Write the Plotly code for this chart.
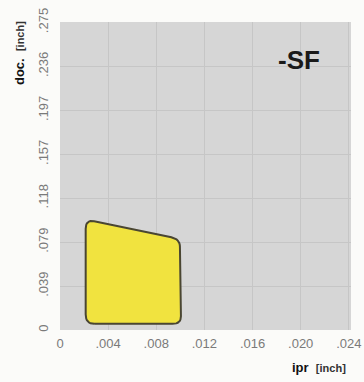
import plotly.graph_objects as go

# axis ticks (inch), derived from mm grid
x_tick_vals = [0.0, 0.003937, 0.007874, 0.011811, 0.015748, 0.019685, 0.023622]
x_tick_text = ["0", ".004", ".008", ".012", ".016", ".020", ".024"]
y_tick_vals = [0.0, 0.03937, 0.07874, 0.11811, 0.15748, 0.19685, 0.23622, 0.27559]
y_tick_text = ["0", ".039", ".079", ".118", ".157", ".197", ".236", ".275"]

# chip-breaking area polygon (vertices, inch)
area_ipr = [0.0021, 0.0021, 0.0098, 0.0099]
area_doc = [0.0055, 0.0990, 0.0815, 0.0055]
grade_label = "-SF"


def rounded(xs, ys, frac=0.09, n=8):
    px, py = [], []
    m = len(xs)
    for i in range(m):
        x0, y0 = xs[i - 1], ys[i - 1]
        x1, y1 = xs[i], ys[i]
        x2, y2 = xs[(i + 1) % m], ys[(i + 1) % m]
        ax, ay = x1 + (x0 - x1) * frac, y1 + (y0 - y1) * frac
        bx, by = x1 + (x2 - x1) * frac, y1 + (y2 - y1) * frac
        for k in range(n + 1):
            t = k / n
            px.append((1 - t) ** 2 * ax + 2 * (1 - t) * t * x1 + t ** 2 * bx)
            py.append((1 - t) ** 2 * ay + 2 * (1 - t) * t * y1 + t ** 2 * by)
    px.append(px[0])
    py.append(py[0])
    return px, py


sx, sy = rounded(area_ipr, area_doc)

fig = go.Figure()
fig.add_trace(go.Scatter(
    x=sx, y=sy, mode="lines", fill="toself",
    fillcolor="#f1e33f", line=dict(color="#4a4632", width=2),
    hoverinfo="skip", showlegend=False,
))

fig.update_layout(
    width=364, height=382,
    margin=dict(l=60, r=13, t=22, b=52),
    paper_bgcolor="#fbfbf9", plot_bgcolor="#d6d6d6",
    font=dict(family="Liberation Sans, Arial, sans-serif", color="#7a7a7a", size=13),
    xaxis=dict(range=[0, 0.0238], tickvals=x_tick_vals, ticktext=x_tick_text,
               showgrid=True, gridcolor="#c6c6c6", gridwidth=1, zeroline=False,
               showline=False, ticks="", fixedrange=True, automargin=False,
               ticklabelstandoff=4),
    yaxis=dict(range=[0, 0.276], tickvals=y_tick_vals, ticktext=y_tick_text,
               tickangle=-90, showgrid=True, gridcolor="#c6c6c6", gridwidth=1,
               zeroline=False, showline=False, ticks="", fixedrange=True,
               automargin=False, ticklabelstandoff=8),
    annotations=[
        dict(text="<b>doc.</b>  <b><span style='font-size:11px;color:#333'>[inch]</span></b>",
             xref="paper", yref="paper", x=-0.137, y=1.01, xanchor="center", yanchor="top",
             textangle=-90, showarrow=False, font=dict(size=13, color="#111")),
        dict(text="<b>ipr</b>  <b><span style='font-size:11px;color:#333'>[inch]</span></b>",
             xref="paper", yref="paper", x=0.99, y=-0.123, xanchor="right", yanchor="middle",
             showarrow=False, font=dict(size=13, color="#111")),
        dict(text="<b>" + grade_label + "</b>", xref="paper", yref="paper",
             x=0.82, y=0.878, xanchor="center", yanchor="middle",
             showarrow=False, font=dict(size=26, color="#1a1a1a",
                                        family="Liberation Sans, Arial, sans-serif")),
    ],
)

fig.write_html("out.html", config={"displayModeBar": False},
               post_script="document.body.style.margin='0';")
